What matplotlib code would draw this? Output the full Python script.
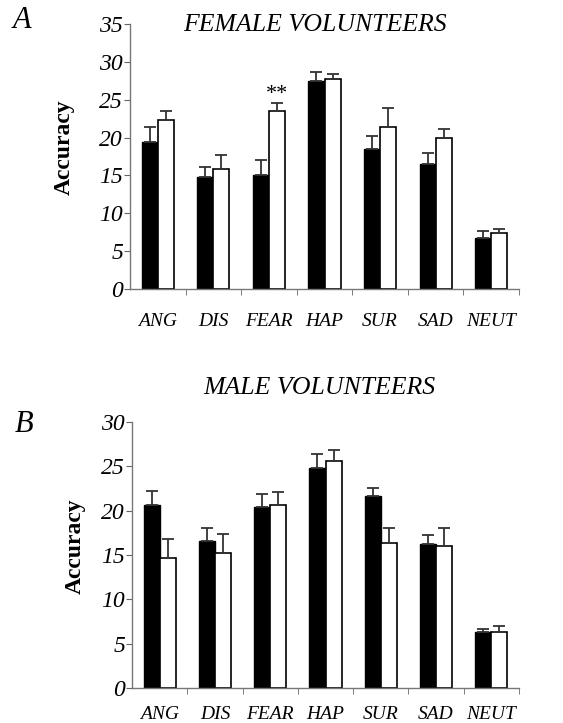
import numpy as np
import matplotlib
matplotlib.use("Agg")
import matplotlib.pyplot as plt
from matplotlib.ticker import FixedLocator

# Emotion categories
categories = ['ANG', 'DIS', 'FEAR', 'HAP', 'SUR', 'SAD', 'NEUT']

# Female volunteers (black / white bars) and upward error
female_black = [19.35, 14.75, 15.1, 27.45, 18.5, 16.45, 6.8]
female_black_err = [2.1, 1.3, 1.95, 1.2, 1.65, 1.45, 0.9]
female_white = [22.35, 15.9, 23.55, 27.8, 21.45, 20.0, 7.45]
female_white_err = [1.2, 1.85, 1.0, 0.65, 2.4, 1.15, 0.5]

# Male volunteers
male_black = [20.6, 16.6, 20.45, 24.8, 21.6, 16.25, 6.35]
male_black_err = [1.6, 1.5, 1.45, 1.55, 1.0, 1.0, 0.35]
male_white = [14.65, 15.25, 20.6, 25.65, 16.4, 16.0, 6.3]
male_white_err = [2.15, 2.15, 1.45, 1.2, 1.7, 2.0, 0.7]

SERIF = 'Liberation Serif'
W = 0.29
x = np.arange(len(categories))

fig = plt.figure(figsize=(5.63, 7.23), dpi=100)


def draw_panel(ax, black, black_err, white, white_err, ymax, xpad, ylab_pos):
    ax.bar(x - W / 2, black, W, color='black', edgecolor='black', linewidth=1,
           yerr=[np.zeros(len(black)), black_err], capsize=4,
           error_kw=dict(ecolor='#333333', elinewidth=1.3, capthick=1.3))
    ax.bar(x + W / 2, white, W, color='white', edgecolor='black', linewidth=1.2,
           yerr=[np.zeros(len(white)), white_err], capsize=4,
           error_kw=dict(ecolor='#333333', elinewidth=1.3, capthick=1.3))
    ax.set_xlim(-0.5, len(categories) - 0.5)
    ax.set_ylim(0, ymax)
    ax.set_yticks(np.arange(0, ymax + 1, 5))
    ax.set_yticklabels([str(v) for v in range(0, ymax + 1, 5)],
                       fontfamily=SERIF, fontstyle='italic', fontsize=17)
    ax.set_xticks(x)
    ax.set_xticklabels(categories, fontfamily=SERIF, fontstyle='italic', fontsize=14)
    ax.xaxis.set_minor_locator(FixedLocator(np.arange(0.5, len(categories), 1)))
    ax.tick_params(axis='x', which='major', length=0, pad=xpad)
    ax.tick_params(axis='x', which='minor', length=4, direction='out', color='#666666')
    ax.tick_params(axis='y', length=4, direction='out', color='#666666', pad=1)
    for s in ['top', 'right']:
        ax.spines[s].set_visible(False)
    for s in ['left', 'bottom']:
        ax.spines[s].set_color('#777777')
        ax.spines[s].set_linewidth(1)
    ax.set_ylabel('Accuracy', fontfamily=SERIF, fontweight='bold', fontsize=17)
    ax.yaxis.set_label_coords(*ylab_pos)


# Panel A
axA = fig.add_axes([130 / 563, 1 - 289 / 723, 389 / 563, 265 / 723])
draw_panel(axA, female_black, female_black_err, female_white, female_white_err, 35,
           17, (-0.142, 0.534))
axA.text(2 + W / 2, female_white[2] + female_white_err[2] - 0.1, '**', ha='center', va='bottom',
         fontfamily=SERIF, fontsize=16)

# Panel B
axB = fig.add_axes([132 / 563, 1 - 688 / 723, 387 / 563, 266 / 723])
draw_panel(axB, male_black, male_black_err, male_white, male_white_err, 30,
           13, (-0.119, 0.535))

fig.text(315 / 563, 1 - 25 / 723, 'FEMALE VOLUNTEERS', ha='center', va='center',
         fontfamily=SERIF, fontstyle='italic', fontsize=18.5)
fig.text(319 / 563, 1 - 388 / 723, 'MALE VOLUNTEERS', ha='center', va='center',
         fontfamily=SERIF, fontstyle='italic', fontsize=18.5)
fig.text(22 / 563, 1 - 21 / 723, 'A', ha='center', va='center',
         fontfamily=SERIF, fontstyle='italic', fontsize=22)
fig.text(24 / 563, 1 - 425 / 723, 'B', ha='center', va='center',
         fontfamily=SERIF, fontstyle='italic', fontsize=22)

fig.savefig('out.png', dpi=100)
